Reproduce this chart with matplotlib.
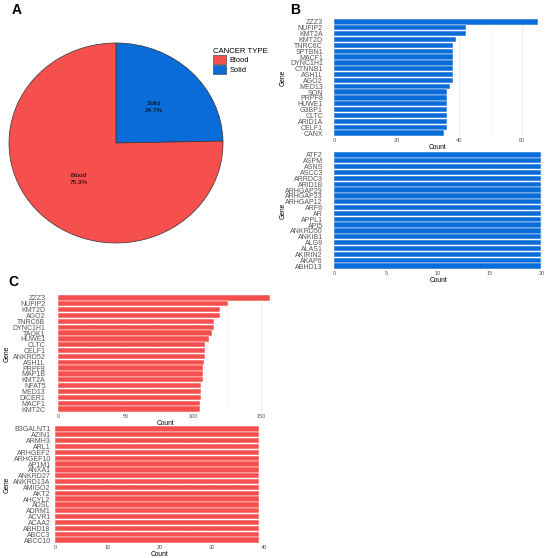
import numpy as np
import pandas as pd
import matplotlib
matplotlib.use('Agg')
import matplotlib.pyplot as plt
from matplotlib.patches import Patch

plt.rcParams['font.family'] = ['Liberation Sans', 'DejaVu Sans']

BLUE = '#0A6CD8'
RED = '#F5504E'

cancer_types = ['Solid', 'Blood']
cancer_pct = [24.7, 75.3]

solid_top_genes = ['ZZZ3', 'NUFIP2', 'KMT2A', 'KMT2D', 'TNRC6C', 'SPTBN1', 'MACF1',
                   'DYNC1H1', 'CTNNB1', 'ASH1L', 'AGO2', 'MED13', 'SON', 'PRPF8',
                   'HUWE1', 'G3BP1', 'CLTC', 'ARID1A', 'CELF1', 'CANX']
solid_top_counts = [65, 42, 42, 39, 38, 38, 38, 38, 38, 38, 38, 37, 36, 36,
                    36, 36, 36, 36, 36, 35]

solid_low_genes = ['ATF2', 'ASPM', 'ASNS', 'ASCC3', 'ARRDC3', 'ARID1B', 'ARHGAP29',
                   'ARHGAP23', 'ARHGAP12', 'ARF6', 'AR', 'APPL1', 'API5', 'ANKRD50',
                   'ANKIB1', 'ALG9', 'ALAS1', 'AKIRIN2', 'AKAP6', 'ABHD13']
solid_low_counts = [20] * 20

blood_top_genes = ['ZZZ3', 'NUFIP2', 'KMT2D', 'AGO2', 'TNRC6B', 'DYNC1H1', 'TAOK1',
                   'HUWE1', 'CLTC', 'CELF1', 'ANKRD52', 'ASH1L', 'PRPF8', 'MAP1B',
                   'KMT2A', 'NFAT5', 'MED13', 'DICER1', 'MACF1', 'KMT2C']
blood_top_counts = [157, 126, 120, 120, 115, 115, 114, 112, 109, 109, 109, 108, 107, 107,
                    107, 106, 106, 106, 105, 105]

blood_low_genes = ['B3GALNT1', 'AZIN1', 'ARMH3', 'ARL1', 'ARHGEF2', 'ARHGEF10', 'AP1M1',
                   'ANXA1', 'ANKRD27', 'ANKRD13A', 'AMIGO2', 'AKT2', 'AHCYL2', 'ADSL',
                   'ADRM1', 'ACVR1', 'ACAA2', 'ABHD18', 'ABCC3', 'ABCC10']
blood_low_counts = [39] * 20


def plot_pie(fig):
    ax = fig.add_axes([9 / 550, 1 - 243 / 558, 214 / 550, 200 / 558])
    colors = [BLUE, RED]
    wedges, _ = ax.pie(cancer_pct, colors=colors, startangle=90, counterclock=False,
                       wedgeprops={'edgecolor': '#333333', 'linewidth': 0.5})
    ax.set_aspect('auto')
    ax.set_xlim(-1.0, 1.0)
    ax.set_ylim(-1.0, 1.0)
    for w, name, pct in zip(wedges, cancer_types, cancer_pct):
        mid = np.deg2rad((w.theta1 + w.theta2) / 2)
        ax.text(0.5 * np.cos(mid), 0.5 * np.sin(mid), f'{name}\n{pct}%',
                ha='center', va='center', fontsize=4.6, linespacing=1.5)
    handles = [Patch(facecolor=RED, edgecolor='#333333', linewidth=0.4, label='Blood'),
               Patch(facecolor=BLUE, edgecolor='#333333', linewidth=0.4, label='Solid')]
    leg = fig.legend(handles=handles, title='CANCER TYPE', loc='upper left',
                     bbox_to_anchor=(210 / 550, 1 - 45 / 558), frameon=False,
                     fontsize=5.4, title_fontsize=5.6, handlelength=1.7,
                     handleheight=1.45, handletextpad=0.5, labelspacing=0.05,
                     borderaxespad=0)
    leg._legend_box.align = 'left'


def plot_bars(fig, rect, genes, counts, color, xmax, major, minor, pad, label_x):
    ax = fig.add_axes(rect)
    df = pd.DataFrame({'gene': genes, 'count': counts})
    y = np.arange(len(df))
    ax.barh(y, df['count'], height=0.9, color=color, edgecolor='white',
            linewidth=0.35, zorder=2)
    ax.set_yticks(y)
    ax.set_yticklabels(df['gene'])
    ax.set_ylim(len(df) - 0.5, -0.5)
    ax.set_xlim(0, xmax)
    ax.set_xticks(major)
    ax.set_xticks(minor, minor=True)
    ax.grid(axis='x', which='major', color='#E6E6E6', linewidth=0.5, zorder=0)
    ax.grid(axis='x', which='minor', color='#F2F2F2', linewidth=0.4, zorder=0)
    for s in ax.spines.values():
        s.set_visible(False)
    ax.tick_params(axis='both', which='both', length=0, colors='#555555')
    ax.tick_params(axis='y', labelsize=5.0, pad=pad)
    ax.tick_params(axis='x', labelsize=4.0, pad=1.5)
    ax.set_xlabel('Count', fontsize=4.8, labelpad=0.5)
    ax.set_ylabel('Gene', fontsize=4.8)
    ax.yaxis.set_label_coords(label_x / 550, rect[1] + rect[3] / 2,
                              transform=fig.transFigure)
    return ax


def main():
    fig = plt.figure(figsize=(5.5, 5.58), dpi=100)
    plot_pie(fig)

    plot_bars(fig, [334 / 550, 1 - 136 / 558, 207 / 550, 117 / 558],
              solid_top_genes, solid_top_counts, BLUE, 66, [0, 20, 40, 60], [10, 30, 50],
              pad=8, label_x=287)
    plot_bars(fig, [334 / 550, 1 - 269 / 558, 208 / 550, 117 / 558],
              solid_low_genes, solid_low_counts, BLUE, 20.05, [0, 5, 10, 15, 20],
              [2.5, 7.5, 12.5, 17.5], pad=8, label_x=287)
    plot_bars(fig, [58 / 550, 1 - 412 / 558, 215 / 550, 117 / 558],
              blood_top_genes, blood_top_counts, RED, 159, [0, 50, 100, 150], [25, 75, 125],
              pad=9, label_x=11)
    plot_bars(fig, [55 / 550, 1 - 543 / 558, 209 / 550, 117 / 558],
              blood_low_genes, blood_low_counts, RED, 40, [0, 10, 20, 30, 40],
              [5, 15, 25, 35], pad=3, label_x=11)

    fig.text(12 / 550, 1 - 10 / 558, 'A', fontsize=10, fontweight='bold', va='center')
    fig.text(290 / 550, 1 - 10 / 558, 'B', fontsize=10, fontweight='bold', va='center')
    fig.text(8 / 550, 1 - 282 / 558, 'C', fontsize=10, fontweight='bold', va='center')

    fig.savefig('out.png', dpi=100)


if __name__ == "__main__":
    main()
